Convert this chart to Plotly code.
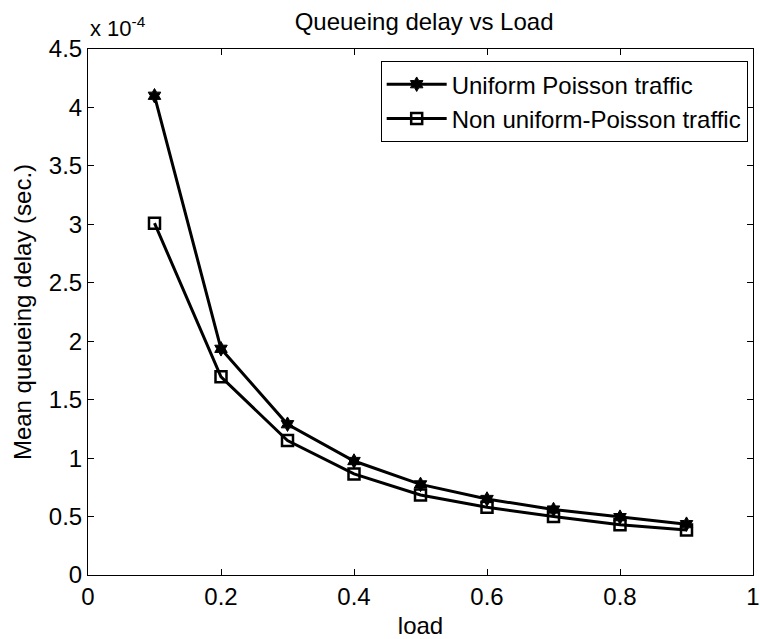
import plotly.graph_objects as go

load = [0.1, 0.2, 0.3, 0.4, 0.5, 0.6, 0.7, 0.8, 0.9]
# mean queueing delay in units of 1e-4 s
uniform_e4 = [4.10, 1.935, 1.29, 0.975, 0.775, 0.65, 0.56, 0.495, 0.435]
nonuniform_e4 = [3.01, 1.695, 1.15, 0.865, 0.685, 0.58, 0.50, 0.43, 0.385]
x_ticks = [0, 0.2, 0.4, 0.6, 0.8, 1]
y_ticks = [0, 0.5, 1, 1.5, 2, 2.5, 3, 3.5, 4, 4.5]

font_family = "Liberation Sans, Arial, sans-serif"

fig = go.Figure()
fig.add_trace(go.Scatter(
    x=load, y=uniform_e4, mode="lines+markers", name="Uniform Poisson traffic",
    line=dict(color="black", width=3),
    marker=dict(symbol="hexagram", size=11, color="black", line=dict(color="black", width=1)),
))
fig.add_trace(go.Scatter(
    x=load, y=nonuniform_e4, mode="lines+markers", name="Non uniform-Poisson traffic",
    line=dict(color="black", width=3),
    marker=dict(symbol="square-open", size=11, color="black", line=dict(color="black", width=2.5)),
))

axis_common = dict(
    showgrid=False, zeroline=False, showline=True, linecolor="black", linewidth=1,
    mirror="ticks", ticks="inside", ticklen=6, tickcolor="black", automargin=False,
    tickfont=dict(size=24, color="black", family=font_family),
)

fig.update_layout(
    width=760, height=639,
    margin=dict(l=88, r=7, t=49, b=64),
    paper_bgcolor="white", plot_bgcolor="white",
    font=dict(family=font_family, color="black"),
    title=dict(text="Queueing delay vs Load", x=0.558, xanchor="center", y=0.966, yanchor="middle",
               font=dict(size=24, color="black", family=font_family)),
    xaxis=dict(range=[0, 1], tickvals=x_ticks, ticktext=[f"{v:g}" for v in x_ticks],
               title=dict(text="load", font=dict(size=24), standoff=8), **axis_common),
    yaxis=dict(range=[0, 4.5], tickvals=y_ticks, ticktext=[f"{v:g}" for v in y_ticks],
               title=dict(text="Mean queueing delay (sec.)", font=dict(size=24), standoff=10), **axis_common),
    legend=dict(x=0.992, y=0.977, xanchor="right", yanchor="top", bgcolor="white",
                bordercolor="black", borderwidth=1, font=dict(size=24, color="black"),
                tracegroupgap=0, itemwidth=60),
    showlegend=True,
)

fig.add_annotation(xref="paper", yref="paper", x=0, y=1, xanchor="left", yanchor="bottom",
                   xshift=0, yshift=6, showarrow=False,
                   text="x 10<sup>-4</sup>", font=dict(size=22, color="black", family=font_family))

fig.write_html("out.html")
